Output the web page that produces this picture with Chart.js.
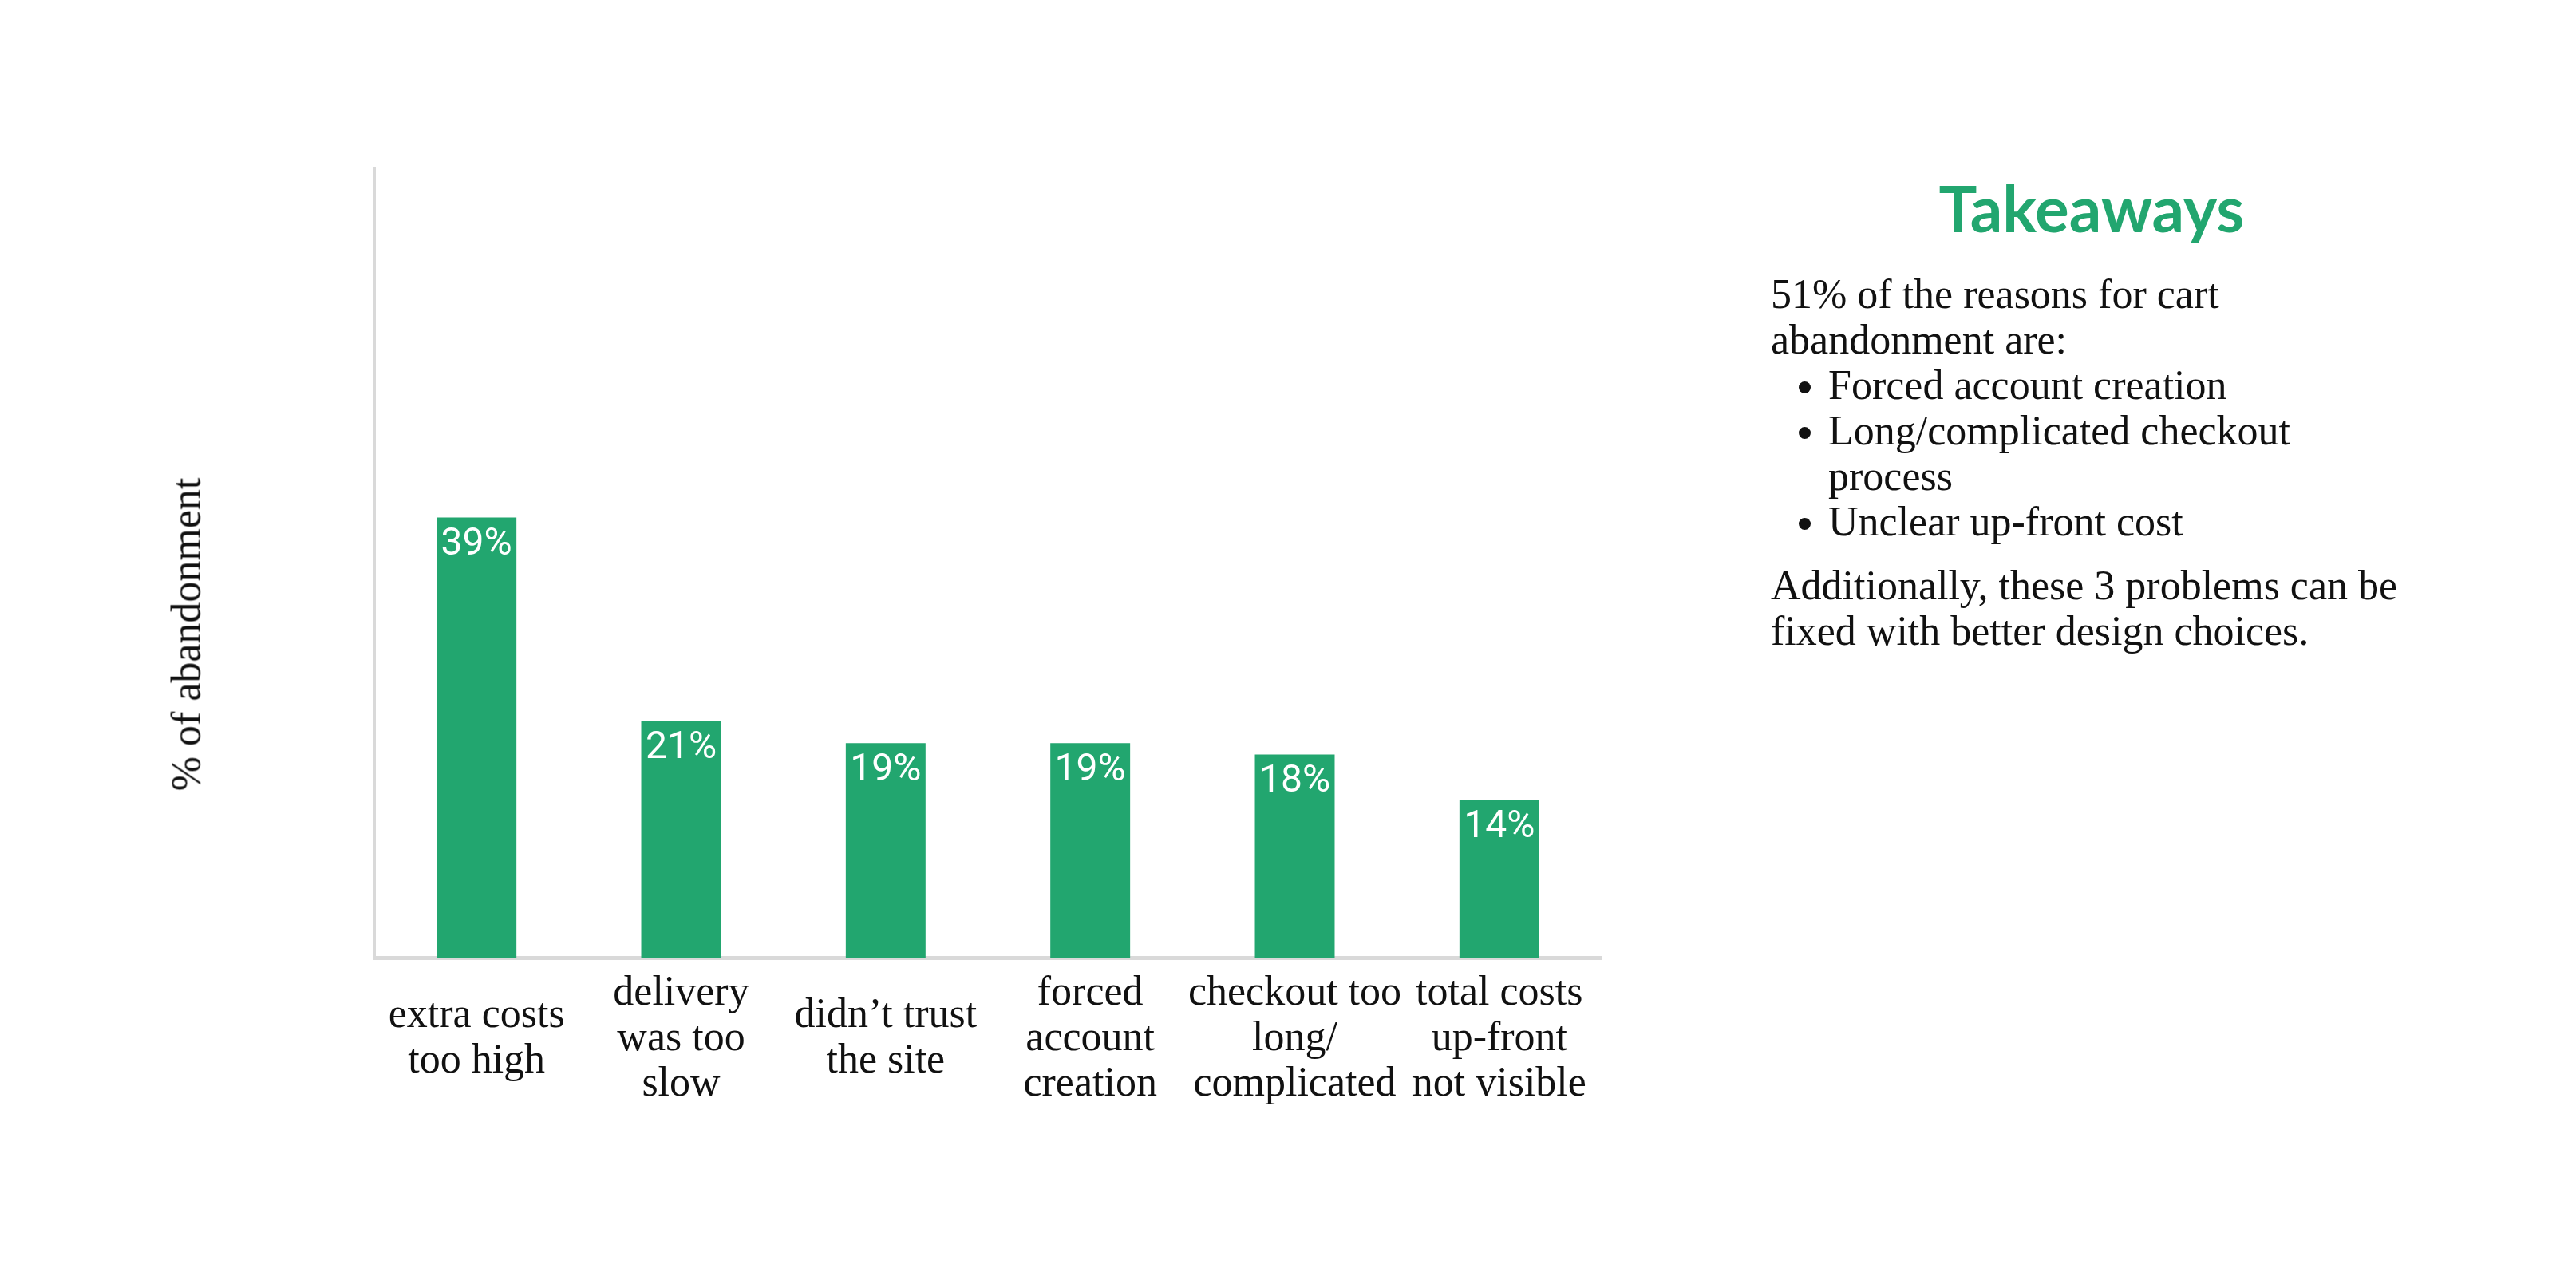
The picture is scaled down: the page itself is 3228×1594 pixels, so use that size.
<!DOCTYPE html>
<html>
<head>
<meta charset="utf-8">
<script src="https://cdn.jsdelivr.net/npm/chart.js@4"></script>
<style>
  html, body { margin:0; padding:0; background:#fff; }
  body { width:3228px; height:1594px; position:relative; overflow:hidden; }
  #chartBox { position:absolute; left:0; top:0; width:2040px; height:1594px; }
  #ytitle { position:absolute; left:233px; top:795px; transform:translate(-50%,-50%) rotate(-90deg);
            font:52px 'Liberation Serif', serif; color:#111; white-space:nowrap; }
  #title { position:absolute; left:2621px; top:212px; transform:translateX(-50%);
           font:bold 80px Lato, sans-serif; color:#22A66F; white-space:nowrap; }
  #panel { position:absolute; left:2219px; top:340px; font:52px 'Liberation Serif', serif;
           line-height:57px; color:#111; white-space:nowrap; }
  #panel ul { margin:0; padding-left:72px; }
  #panel p { margin:0; }
</style>
</head>
<body>
<div id="chartBox"><canvas id="c"></canvas></div>
<div id="ytitle">% of abandonment</div>
<div id="title">Takeaways</div>
<div id="panel">
  <p>51% of the reasons for cart<br>abandonment are:</p>
  <ul>
    <li>Forced account creation</li>
    <li>Long/complicated checkout<br>process</li>
    <li>Unclear up-front cost</li>
  </ul>
  <p style="margin-top:23px">Additionally, these 3 problems can be<br>fixed with better design choices.</p>
</div>
<script>
const categories = [
  ["extra costs", "too high"],
  ["delivery", "was too", "slow"],
  ["didn\u2019t trust", "the site"],
  ["forced", "account", "creation"],
  ["checkout too", "long/", "complicated"],
  ["total costs", "up-front", "not visible"]
];
const abandonment = [39, 21, 19, 19, 18, 14];
const yMin = 0;
const yMax = 70;

const barLabels = {
  id: 'barLabels',
  afterDatasetsDraw(chart) {
    const ctx = chart.ctx;
    const meta = chart.getDatasetMeta(0);
    ctx.save();
    ctx.fillStyle = '#ffffff';
    ctx.font = '400 48px Roboto, sans-serif';
    ctx.textAlign = 'center';
    ctx.textBaseline = 'alphabetic';
    meta.data.forEach((bar, i) => {
      ctx.fillText(abandonment[i] + '%', bar.x, bar.y + 47);
    });
    ctx.restore();
  }
};

new Chart(document.getElementById('c'), {
  type: 'bar',
  data: {
    labels: categories,
    datasets: [{
      data: abandonment,
      backgroundColor: '#22A66F',
      borderWidth: 0,
      categoryPercentage: 1,
      barPercentage: 0.39
    }]
  },
  options: {
    responsive: true,
    maintainAspectRatio: false,
    animation: false,
    layout: { padding: { left: 469, right: 33, top: 210, bottom: 0 } },
    plugins: { legend: { display: false }, tooltip: { enabled: false } },
    scales: {
      x: {
        grid: { display: false },
        border: { display: true, color: '#d9d9d9', width: 5 },
        ticks: {
          color: '#111',
          font: { family: "'Liberation Serif', serif", size: 52, lineHeight: 1.1 },
          padding: 37,
          crossAlign: 'center',
          maxRotation: 0,
          minRotation: 0,
          autoSkip: false
        },
        afterFit(scale) { scale.height = 394; }
      },
      y: {
        min: yMin,
        max: yMax,
        grid: { display: false },
        border: { display: true, color: '#d9d9d9', width: 3 },
        ticks: { display: false },
        afterFit(scale) { scale.width = 0; }
      }
    }
  },
  plugins: [barLabels]
});
</script>
</body>
</html>
